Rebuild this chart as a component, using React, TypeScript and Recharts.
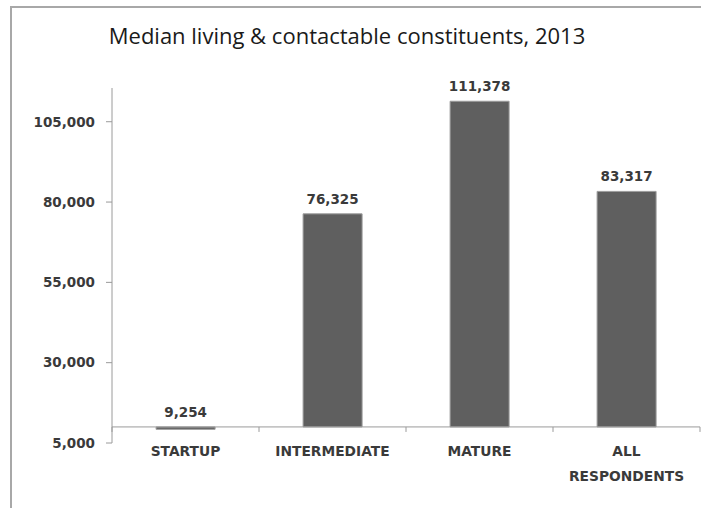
import React from 'react'
import { BarChart, Bar, XAxis, YAxis, ReferenceLine, LabelList } from 'recharts'

const categories = ['STARTUP', 'INTERMEDIATE', 'MATURE', 'ALL\nRESPONDENTS']
const medians = [9254, 76325, 111378, 83317]
const yTicks = [5000, 30000, 55000, 80000, 105000]
const yDomain = [5000, 115500]
// horizontal axis crosses the value axis here, bars grow from it
const axisCross = 10000

const data = categories.map((name, i) => ({
  name,
  value: medians[i],
  range: [Math.min(medians[i], axisCross), Math.max(medians[i], axisCross)],
}))

const labelFont = 'DejaVu Sans, Verdana, sans-serif'
const textColor = '#3a3a3a'
const axisColor = '#9a9a9a'

const fmt = (v: any) => Number(v).toLocaleString('en-US')

const CategoryTick = (props: any) => {
  const { x, y, payload } = props
  const lines = String(payload.value).split('\n')
  return (
    <g>
      {lines.map((line, i) => (
        <text
          key={i}
          x={x}
          y={y}
          dy={13 + i * 25}
          textAnchor="middle"
          fill={textColor}
          fontFamily={labelFont}
          fontWeight="bold"
          fontSize={13.8}
        >
          {line}
        </text>
      ))}
    </g>
  )
}

// axis line at the crossing value with tick marks between categories
const CrossAxis = (props: any) => {
  const { x1, y1, x2 } = props
  if (x1 == null || y1 == null) return null
  const n = categories.length
  const marks = []
  for (let i = 0; i <= n; i++) {
    const x = x1 + (i * (x2 - x1)) / n
    marks.push(<line key={i} x1={x} y1={y1} x2={x} y2={y1 + 5} stroke={axisColor} />)
  }
  return (
    <g>
      <line x1={x1} y1={y1} x2={x2} y2={y1} stroke={axisColor} />
      {marks}
    </g>
  )
}

export default function App() {
  return (
    <div
      style={{
        position: 'absolute',
        left: 0,
        top: 0,
        width: 701,
        height: 508,
        overflow: 'hidden',
        background: '#fff',
      }}
    >
      <div
        style={{
          position: 'absolute',
          left: 10,
          top: 6,
          width: 800,
          height: 600,
          borderLeft: '2px solid #a8a8a8',
          borderTop: '2px solid #a8a8a8',
        }}
      />
      <div
        style={{
          position: 'absolute',
          left: 0,
          top: 22,
          width: 694,
          textAlign: 'center',
          fontFamily: 'Open Sans, sans-serif',
          fontSize: 22,
          color: '#1a1a1a',
          lineHeight: '26px',
        }}
      >
        Median living &amp; contactable constituents, 2013
      </div>
      <div style={{ position: 'absolute', left: 0, top: 0 }}>
        <BarChart
          width={701}
          height={508}
          data={data}
          margin={{ top: 88, right: 1, left: 0, bottom: 0 }}
          barCategoryGap="30%"
        >
          <XAxis
            dataKey="name"
            axisLine={false}
            tickLine={false}
            tickSize={0}
            tickMargin={0}
            height={65}
            interval={0}
            tick={<CategoryTick />}
          />
          <YAxis
            domain={yDomain}
            ticks={yTicks}
            allowDataOverflow
            width={112}
            tickSize={6}
            tickMargin={11}
            stroke={axisColor}
            tick={{ fill: textColor, fontFamily: labelFont, fontWeight: 'bold', fontSize: 13.5 }}
            tickFormatter={fmt}
          />
          <Bar dataKey="range" fill="#5f5f5f" stroke="#9c9c9c" strokeWidth={1} isAnimationActive={false}>
            <LabelList
              dataKey="value"
              position="top"
              offset={10}
              formatter={fmt}
              fill={textColor}
              fontFamily={labelFont}
              fontWeight="bold"
              fontSize={13.5}
            />
          </Bar>
          <ReferenceLine y={axisCross} shape={<CrossAxis />} ifOverflow="visible" />
        </BarChart>
      </div>
    </div>
  )
}
